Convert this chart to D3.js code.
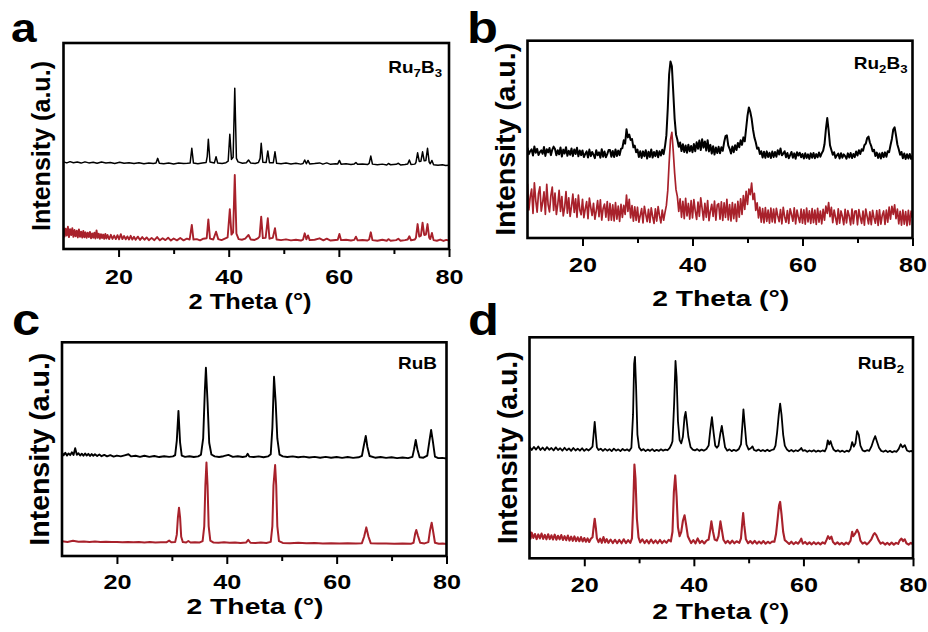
<!DOCTYPE html>
<html>
<head>
<meta charset="utf-8">
<script src="https://cdn.jsdelivr.net/npm/d3@7"></script>
<style>
  body { margin: 0; background: #fff; }
  svg { display: block; }
  text { font-family: Arial, "Liberation Sans", Helvetica, sans-serif; font-weight: bold; fill: #000; }
</style>
</head>
<body>
<svg id="chart" width="928" height="632"></svg>
<script>
// ---- axis definitions -------------------------------------------------
const thetaDomain = [10, 80];
const majorTicks = [20, 40, 60, 80];
const minorTicks = [30, 50, 70];
const xTitle = "2 Theta (°)";
const yTitle = "Intensity (a.u.)";

// ---- Ru7B3: [2θ, intensity] (black = measured, red = reference) -------
const ru7b3Black = [
  [10,42.3],[10.6,41.8],[11.2,42.4],[11.8,41.9],[12.5,42.2],[13.2,41.7],[13.9,42.3],[14.6,41.8],[15.4,42.1],[16.1,41.6],
  [16.9,42.2],[17.7,41.8],[18.5,42.0],[19.3,41.5],[20.2,42.1],[21.0,41.6],[21.9,41.9],[22.8,41.5],[23.7,41.9],[24.6,41.4],
  [25.5,41.8],[26.3,41.5],[26.8,41.7],[27.1,44.0],[27.4,41.6],[28.2,41.4],[29.1,41.8],[30.0,41.3],[30.9,41.7],[31.8,41.5],
  [32.5,41.6],[33.0,41.8],[33.3,48.9],[33.6,41.7],[34.4,41.4],[35.2,41.7],[35.9,42.0],[36.1,45.0],[36.3,53.3],[36.6,42.2],
  [37.4,41.8],[37.7,44.8],[38.0,41.7],[38.8,41.5],[39.5,41.9],[39.9,42.6],[40.2,55.7],[40.5,43.5],[40.8,44.5],[41.1,78.0],
  [41.4,44.0],[41.7,42.3],[42.5,41.6],[43.2,41.9],[43.6,43.2],[44.0,41.7],[44.8,41.5],[45.4,42.0],[45.7,44.0],[45.9,51.3],
  [46.2,42.1],[46.8,42.0],[47.1,47.6],[47.4,41.9],[48.1,41.9],[48.4,47.2],[48.7,41.6],[49.5,41.4],[50.4,41.7],[51.3,41.3],
  [52.2,41.6],[53.1,41.2],[53.5,41.5],[53.8,43.2],[54.1,41.4],[54.4,43.0],[54.7,41.3],[55.6,41.5],[56.5,41.8],[57.1,41.2],
  [57.8,41.8],[58.5,41.1],[59.4,41.4],[59.8,41.3],[60.1,43.0],[60.4,41.2],[61.3,41.4],[62.2,41.0],[62.8,41.3],[63.1,42.0],
  [63.4,41.1],[64.3,41.3],[65.2,41.0],[65.5,41.6],[65.8,45.1],[66.1,41.2],[67.0,40.9],[67.9,41.2],[68.7,40.8],[69.0,41.5],
  [69.4,40.9],[70.4,41.1],[70.8,41.6],[71.2,40.8],[72.0,41.0],[72.5,41.3],[72.8,43.2],[73.1,41.0],[73.8,41.2],[74.0,42.0],
  [74.3,46.7],[74.6,42.5],[74.9,42.6],[75.2,47.2],[75.5,42.8],[75.8,43.0],[76.1,48.9],[76.4,42.2],[76.6,41.4],[76.9,43.0],
  [77.2,40.9],[78.0,40.6],[78.8,40.9],[79.4,40.5],[80,40.7]
];
const ru7b3Red = [
  [10,10.5],[10.2,6.0],[10.4,9.8],[10.6,6.5],[10.8,10.8],[11.0,5.8],[11.2,9.6],[11.4,6.8],[11.6,10.1],[11.8,5.9],
  [12.0,9.2],[12.2,6.2],[12.4,8.9],[12.6,5.6],[12.8,9.5],[13.0,5.9],[13.2,8.4],[13.4,5.5],[13.6,8.8],[13.8,5.7],
  [14.0,8.1],[14.2,5.4],[14.4,7.9],[14.6,5.8],[14.8,8.3],[15.0,5.2],[15.2,7.6],[15.4,5.5],[15.6,7.9],[15.8,5.1],
  [16.0,9.0],[16.2,5.4],[16.4,7.4],[16.6,5.0],[16.8,7.2],[17.0,5.3],[17.2,7.0],[17.4,4.9],[17.6,7.3],[17.8,5.1],
  [18.0,6.8],[18.3,4.8],[18.6,6.9],[18.9,4.9],[19.2,6.5],[19.5,4.8],[19.8,6.7],[20.1,4.7],[20.4,7.2],[20.7,4.8],
  [21.0,6.3],[21.3,4.7],[21.6,6.1],[21.9,4.6],[22.2,6.4],[22.5,4.6],[22.8,5.9],[23.1,4.5],[23.5,6.0],[23.9,4.4],
  [24.3,5.8],[24.7,4.5],[25.1,5.6],[25.5,4.3],[26.0,5.4],[26.5,4.3],[27.0,5.8],[27.5,4.2],[28.0,5.2],[28.5,4.3],
  [29.0,5.5],[29.5,4.1],[30.0,5.1],[30.6,4.2],[31.2,5.3],[31.8,4.2],[32.4,5.0],[32.9,4.6],[33.3,11.7],[33.6,4.6],
  [34.2,4.8],[34.8,4.2],[35.4,5.0],[36.0,5.2],[36.3,14.4],[36.6,5.0],[37.2,4.6],[37.7,8.4],[38.1,4.8],[38.7,4.3],
  [39.3,5.0],[39.8,5.6],[40.2,19.3],[40.5,7.0],[40.8,8.0],[41.1,35.9],[41.4,7.5],[41.8,4.8],[42.4,4.5],[43.0,5.0],
  [43.6,6.8],[44.0,4.6],[44.7,4.4],[45.3,5.2],[45.6,6.0],[45.9,15.7],[46.2,5.3],[46.7,5.4],[47.1,14.9],[47.4,5.0],
  [48.0,5.4],[48.4,10.1],[48.7,4.6],[49.5,4.3],[50.4,4.7],[51.3,4.2],[52.2,4.5],[53.1,4.1],[53.5,4.6],[53.8,7.6],
  [54.1,4.7],[54.4,6.6],[54.7,4.3],[55.6,4.5],[56.5,5.2],[57.2,4.2],[57.8,5.0],[58.5,4.1],[59.4,4.4],[59.8,4.5],
  [60.1,7.3],[60.4,4.3],[61.3,4.5],[62.2,4.1],[62.8,4.4],[63.1,6.0],[63.4,4.2],[64.3,4.4],[65.2,4.1],[65.5,4.6],
  [65.8,8.1],[66.1,4.3],[67.0,4.0],[67.9,4.5],[68.7,4.0],[69.0,4.8],[69.4,4.0],[70.4,4.3],[70.8,5.0],[71.2,4.0],
  [72.0,4.3],[72.5,4.6],[72.8,6.2],[73.1,4.2],[73.8,4.6],[74.0,5.5],[74.3,12.1],[74.6,6.0],[74.9,6.5],[75.2,12.8],
  [75.5,6.8],[75.8,7.0],[76.1,12.1],[76.4,5.5],[76.6,4.8],[76.9,7.8],[77.2,4.3],[77.8,4.0],[78.4,4.6],[79.0,3.9],
  [79.5,4.4],[80,4.2]
];

// ---- Ru2B3: intensities on a 0.25° step from 10° to 80° ---------------
const ru2b3Step = 0.25;
const ru2b3Black = [
  45.8,42.5,44.0,44.9,41.8,46.4,43.2,45.2,42.1,43.5,44.4,42.7,46.1,41.6,45.0,43.4,45.6,42.0,44.7,46.3, // 10–15
  45.1,41.9,44.5,42.4,45.9,41.3,44.8,42.8,46.0,41.7,44.2,42.2,45.4,41.5,44.9,42.6,45.7,41.4,44.3,42.0, // 15–20
  44.4,41.0,42.6,43.9,40.8,44.8,41.5,43.6,42.2,40.5,44.5,41.9,43.4,40.7,45.0,41.2,43.8,40.9,42.5,44.6, // 20–25
  44.6,41.2,44.1,41.0,44.9,41.6,44.3,42.0,45.2,45.6,49.5,47.8,55.1,51.0,52.4,49.7,50.2,46.0,46.8,43.5, // 25–30
  44.8,41.0,44.0,40.6,43.9,41.4,44.5,40.3,43.7,41.1,44.9,40.8,43.6,41.5,44.2,40.9,44.0,41.8,44.7,42.5, // 30–35
  46.5,52.0,65.5,83.0,89.5,87.0,74.0,60.5,52.5,49.8,46.2,48.4,44.1,47.5,43.6,46.9,43.2,47.3,44.0,46.6, // 35–40
  43.5,47.6,44.0,48.5,45.2,49.4,44.6,50.1,45.8,48.9,44.3,49.6,43.9,47.2,42.8,46.5,42.3,45.9,43.1,46.2, // 40–45
  42.9,46.0,44.2,48.5,51.6,52.0,47.0,45.2,42.8,46.4,43.5,47.0,44.6,48.2,46.0,49.5,47.2,51.0,49.0,55.5, // 45–50
  62.0,66.2,64.0,60.5,55.0,51.0,48.5,45.2,45.8,42.6,44.0,40.8,43.7,40.6,43.9,41.1,43.2,40.5,43.8,41.0, // 50–55
  43.6,41.2,44.5,42.3,45.4,41.9,42.8,44.0,40.9,43.1,40.4,42.0,43.6,40.7,42.9,40.2,43.5,41.8,43.2,40.9, // 55–60
  42.6,40.3,43.0,40.6,42.4,40.1,42.9,40.7,43.1,40.4,42.5,40.9,43.3,41.2,43.0,44.2,47.5,55.0,60.8,54.5, // 60–65
  47.0,44.6,42.2,43.5,40.6,41.9,42.8,40.3,43.0,40.7,42.4,41.5,40.2,42.9,40.8,43.1,40.5,42.6,41.0,43.8, // 65–70
  41.8,44.5,42.6,45.0,44.2,47.0,47.8,50.6,51.4,48.4,46.6,44.0,44.7,41.6,43.3,40.6,42.8,40.3,43.2,41.0, // 70–75
  43.4,41.2,44.0,43.5,47.0,50.2,55.0,56.1,52.0,47.4,45.0,42.2,43.6,40.4,42.8,40.0,42.5,40.3,42.6,40.1, // 75–80
  41.8
];
const ru2b3Red = [
  27.5,14.2,21.0,24.8,12.5,28.0,19.0,13.1,22.6,25.9,13.6,18.0,23.4,12.0,27.2,16.8,13.2,21.5,25.8,14.0, // 10–15
  22.8,11.9,17.0,24.1,13.5,21.0,11.2,15.4,23.5,12.6,20.4,10.9,16.0,22.2,13.0,19.8,10.5,21.7,14.3,11.8, // 15–20
  19.6,10.3,14.8,18.4,9.8,20.2,15.5,11.4,17.6,9.5,13.8,18.9,10.8,19.3,9.1,15.0,17.2,10.6,18.5,8.9,    // 20–25
  17.5,9.0,16.8,8.7,17.9,9.6,16.2,8.4,17.0,10.4,16.5,12.0,21.8,13.5,19.6,10.2,16.4,8.5,15.8,8.9,      // 25–30
  15.6,8.0,11.5,14.9,7.6,16.1,12.0,8.3,14.5,7.9,15.3,10.9,7.4,14.8,8.6,15.9,11.3,7.7,14.2,9.0,        // 30–35
  13.0,16.5,24.0,38.0,50.0,53.5,44.0,33.0,24.5,21.0,13.5,19.8,10.5,18.6,9.8,20.1,11.2,17.5,9.6,18.9, // 35–40
  10.2,19.5,13.8,9.4,18.2,11.0,20.4,15.0,9.1,17.6,10.5,19.0,8.8,13.6,17.1,10.9,18.7,9.0,16.8,17.4,    // 40–45
  9.5,18.3,8.9,17.8,10.4,19.6,9.2,16.9,8.6,18.0,9.8,17.2,8.4,18.6,10.6,19.9,12.0,21.5,14.5,23.6,      // 45–50
  17.0,24.8,22.0,27.8,19.5,22.6,14.0,17.8,10.2,15.6,8.0,14.9,7.7,15.4,8.4,14.1,7.5,15.2,8.1,14.6,     // 50–55
  7.6,15.0,11.2,8.3,14.4,7.2,15.5,10.8,8.0,13.9,7.4,14.8,12.0,8.5,15.3,7.1,14.2,10.5,7.9,14.7,        // 55–60
  7.5,14.3,7.0,15.2,8.1,13.8,7.4,14.9,7.8,14.1,6.9,15.0,8.0,13.6,7.2,14.5,9.0,16.2,12.5,17.9,         // 60–65
  10.8,15.5,7.8,14.2,10.4,6.9,14.8,7.5,13.7,10.9,6.8,14.5,7.7,13.9,11.0,6.6,14.6,7.3,13.5,13.8,       // 65–70
  6.7,14.4,10.5,7.4,13.6,6.5,14.7,11.0,7.2,13.3,6.8,14.0,10.2,7.5,13.9,6.4,14.3,7.0,11.5,13.7,        // 70–75
  6.9,14.2,8.0,15.6,9.5,16.1,12.0,16.8,9.8,14.6,7.2,13.5,6.5,14.1,7.0,13.4,6.3,14.0,6.8,13.6,         // 75–80
  10.2
];

// ---- RuB: [2θ, intensity] ---------------------------------------------
const rubBlack = [
  [10,48.4],[10.3,47.1],[10.6,48.3],[10.9,47.0],[11.2,48.0],[11.5,47.2],[11.8,48.5],[12.1,47.3],[12.4,50.4],[12.7,47.4],
  [13.0,48.1],[13.3,47.0],[13.6,47.9],[13.9,46.9],[14.2,48.0],[14.5,47.0],[14.8,47.8],[15.1,46.8],[15.4,47.7],[15.7,46.9],
  [16.0,47.6],[16.4,46.8],[16.8,47.5],[17.2,46.7],[17.7,47.3],[18.2,46.6],[18.8,47.2],[19.4,46.5],[20.0,47.0],[20.7,46.6],
  [21.4,47.1],[22.1,47.6],[22.6,46.6],[23.4,46.9],[24.2,46.4],[25.0,46.9],[25.9,46.4],[26.8,46.8],[27.7,46.3],[28.6,46.7],
  [29.5,46.4],[30.2,46.6],[30.6,47.2],[30.9,54.0],[31.2,67.9],[31.5,53.0],[31.8,47.0],[32.4,46.4],[33.2,46.7],[34.0,46.3],
  [34.8,46.6],[35.3,47.4],[35.7,55.0],[36.0,77.0],[36.2,88.1],[36.5,72.0],[36.8,53.0],[37.2,47.5],[37.8,46.6],[38.6,46.3],
  [39.4,46.7],[40.3,47.3],[41.1,46.4],[42.0,46.7],[42.9,46.3],[43.5,46.6],[43.8,47.8],[44.1,46.5],[44.9,46.3],[45.8,46.6],
  [46.7,46.2],[47.5,46.6],[48.0,47.6],[48.3,60.0],[48.6,83.9],[48.9,72.0],[49.2,55.0],[49.6,47.4],[50.2,46.6],[51.0,46.3],
  [52.0,46.6],[53.0,46.2],[54.0,46.5],[55.0,46.1],[56.0,46.4],[57.0,46.0],[58.0,46.4],[59.0,46.0],[60.0,46.3],[61.0,45.9],
  [62.0,46.3],[63.0,45.9],[64.0,46.2],[64.6,46.8],[64.9,51.0],[65.3,56.2],[65.6,51.0],[66.0,46.8],[67.0,46.0],[68.0,46.3],
  [69.0,45.9],[70.0,46.2],[71.0,45.8],[72.0,46.1],[73.0,45.8],[73.8,46.4],[74.1,50.0],[74.4,54.3],[74.7,50.0],[75.1,46.2],
  [75.8,46.0],[76.5,47.0],[76.9,54.0],[77.2,59.0],[77.5,54.0],[77.9,46.5],[78.5,45.8],[79.2,45.9],[80,45.6]
];
const rubRed = [
  [10,6.9],[11,6.6],[12,7.1],[13,6.7],[14,6.8],[15,6.6],[16,6.8],[17,6.5],[18,6.7],[19,6.5],
  [20,6.6],[21,6.4],[22,6.6],[23,6.4],[24,6.5],[25,6.3],[26,6.5],[27,6.3],[28,6.4],[29,6.4],
  [29.5,7.2],[29.9,6.4],[30.6,6.5],[30.9,10.0],[31.1,18.0],[31.3,22.6],[31.5,18.0],[31.7,9.0],[32.0,6.5],[32.6,6.3],
  [33.0,7.0],[33.4,6.3],[34.2,6.4],[35.0,6.3],[35.6,7.0],[35.9,14.0],[36.1,33.0],[36.3,43.7],[36.5,33.0],[36.7,14.0],
  [37.0,7.2],[37.6,6.3],[38.5,6.2],[39.5,6.4],[40.5,6.2],[41.5,6.3],[42.5,6.1],[43.5,6.3],[43.9,7.6],[44.3,6.2],
  [45.2,6.1],[46.2,6.3],[47.2,6.1],[48.0,6.6],[48.3,14.0],[48.5,33.0],[48.8,42.6],[49.0,33.0],[49.2,14.0],[49.5,7.0],
  [50.2,6.1],[51.5,6.0],[53.0,6.2],[54.5,6.0],[56.0,6.1],[57.5,5.9],[59.0,6.0],[60.5,5.8],[62.0,6.0],[63.5,5.8],
  [64.6,6.0],[65.0,9.0],[65.4,13.4],[65.8,9.0],[66.2,6.0],[67.5,5.8],[69.0,5.9],[70.5,5.7],[72.0,5.8],[73.5,5.7],
  [74.0,6.2],[74.3,10.5],[74.5,12.2],[74.8,9.5],[75.2,6.2],[76.0,5.9],[76.7,6.5],[77.0,12.0],[77.3,15.6],[77.6,11.0],
  [77.9,6.2],[78.6,5.7],[79.3,5.8],[80,5.6]
];

// ---- RuB2: [2θ, intensity] --------------------------------------------
const rub2Black = [
  [10,50.5],[10.4,49.0],[10.8,50.4],[11.2,49.2],[11.6,50.6],[12.0,49.0],[12.4,50.1],[12.8,48.9],[13.2,50.3],[13.6,49.1],
  [14.0,49.9],[14.4,48.8],[14.8,50.2],[15.2,49.0],[15.6,49.8],[16.0,48.7],[16.4,50.0],[16.8,48.9],[17.2,49.7],[17.6,48.6],
  [18.0,49.9],[18.4,48.8],[18.8,49.6],[19.2,48.7],[19.6,49.8],[20.0,48.6],[20.4,49.5],[20.8,48.8],[21.2,49.7],[21.5,50.5],
  [21.7,56.0],[21.9,61.7],[22.1,56.0],[22.3,50.2],[22.6,49.0],[23.0,49.6],[23.4,48.6],[23.8,49.5],[24.2,48.7],[24.6,49.4],
  [25.0,48.5],[25.4,49.6],[25.8,48.7],[26.2,49.3],[26.6,48.5],[27.0,49.5],[27.4,48.8],[27.8,49.3],[28.2,48.6],[28.6,50.0],
  [28.9,65.0],[29.1,88.0],[29.25,91.1],[29.45,78.0],[29.7,56.0],[30.0,50.2],[30.4,48.8],[30.8,49.4],[31.2,48.5],[31.6,49.2],
  [32.0,48.6],[32.4,49.4],[32.8,48.5],[33.2,49.1],[33.6,48.6],[34.0,49.3],[34.4,48.7],[34.8,49.2],[35.2,48.9],[35.6,50.0],
  [35.9,51.5],[36.1,53.0],[36.4,70.0],[36.65,89.3],[36.85,82.0],[37.1,62.0],[37.4,53.5],[37.7,52.0],[38.0,55.0],[38.3,64.0],
  [38.5,66.2],[38.7,62.0],[39.0,55.0],[39.4,50.3],[39.8,49.2],[40.2,48.8],[40.6,49.4],[41.0,48.6],[41.4,49.2],[41.8,48.7],
  [42.3,49.5],[42.7,51.0],[43.0,58.0],[43.3,63.9],[43.6,57.0],[43.9,51.0],[44.2,50.0],[44.5,51.0],[44.8,56.0],[45.1,59.9],
  [45.4,55.0],[45.7,50.2],[46.1,48.7],[46.5,49.3],[46.9,48.5],[47.3,49.1],[47.7,48.6],[48.2,49.4],[48.6,51.5],[48.85,60.0],
  [49.05,67.4],[49.3,60.0],[49.6,51.5],[50.0,49.2],[50.4,49.8],[50.7,50.6],[51.0,49.0],[51.4,48.6],[51.8,49.2],[52.2,48.5],
  [52.6,49.0],[53.0,48.4],[53.4,49.1],[53.8,48.5],[54.2,49.0],[54.6,49.3],[54.9,51.0],[55.2,57.0],[55.5,65.0],[55.75,70.0],
  [56.0,65.0],[56.3,56.0],[56.6,51.0],[57.0,49.2],[57.4,48.4],[57.8,49.0],[58.2,48.3],[58.6,48.9],[59.0,48.5],[59.3,49.1],
  [59.6,49.9],[59.9,48.6],[60.3,48.9],[60.7,48.2],[61.1,48.8],[61.5,48.3],[61.9,48.9],[62.3,48.2],[62.7,48.7],[63.1,48.3],
  [63.5,48.8],[63.9,48.4],[64.2,50.0],[64.45,53.4],[64.7,51.5],[64.95,53.0],[65.2,51.0],[65.5,49.2],[65.9,48.4],[66.3,48.9],
  [66.7,48.2],[67.1,48.7],[67.5,48.1],[67.9,48.7],[68.3,48.3],[68.6,49.5],[68.9,52.6],[69.2,50.5],[69.5,52.0],[69.8,57.5],
  [70.1,56.0],[70.4,51.0],[70.8,48.8],[71.2,48.4],[71.6,48.9],[72.0,48.6],[72.4,50.5],[72.8,53.5],[73.1,55.3],[73.4,53.0],
  [73.8,50.0],[74.2,48.6],[74.6,48.2],[75.0,48.8],[75.4,48.1],[75.8,48.6],[76.2,48.0],[76.6,48.5],[77.0,48.2],[77.4,49.5],
  [77.75,51.6],[78.1,50.2],[78.5,51.2],[78.9,48.8],[79.3,48.3],[79.7,48.6],[80,48.0]
];
const rub2Red = [
  [10,12.4],[10.2,8.9],[10.4,11.6],[10.7,9.2],[11.0,11.0],[11.3,8.7],[11.6,10.8],[11.9,9.0],[12.2,11.2],[12.5,8.8],
  [12.8,10.6],[13.1,8.6],[13.4,10.9],[13.7,8.7],[14.0,10.4],[14.3,8.5],[14.6,10.7],[14.9,8.4],[15.2,10.2],[15.5,8.6],
  [15.8,10.5],[16.1,8.3],[16.4,10.0],[16.7,8.2],[17.0,10.3],[17.3,8.0],[17.6,9.8],[17.9,7.9],[18.2,9.9],[18.5,7.8],
  [18.8,9.5],[19.1,7.7],[19.4,9.6],[19.7,7.6],[20.0,9.2],[20.3,7.5],[20.6,9.0],[20.9,7.4],[21.2,8.8],[21.5,9.5],
  [21.7,14.0],[21.9,17.9],[22.1,14.0],[22.3,9.0],[22.6,7.3],[22.9,8.9],[23.2,7.0],[23.5,9.6],[23.8,7.2],[24.1,8.7],
  [24.4,7.0],[24.8,8.5],[25.2,6.9],[25.6,8.4],[26.0,6.9],[26.4,8.3],[26.8,6.8],[27.2,8.6],[27.6,6.9],[28.0,8.2],
  [28.4,7.0],[28.7,9.0],[28.95,25.0],[29.15,42.4],[29.35,36.0],[29.6,18.0],[29.9,9.5],[30.2,7.2],[30.6,8.6],[31.0,6.9],
  [31.4,8.2],[31.8,6.8],[32.2,8.5],[32.6,6.9],[33.0,8.1],[33.4,6.8],[33.8,8.3],[34.2,6.9],[34.6,8.0],[35.0,7.0],
  [35.4,8.4],[35.8,7.6],[36.1,12.0],[36.35,30.0],[36.6,37.5],[36.85,28.0],[37.1,14.0],[37.4,10.0],[37.7,12.0],[38.0,17.0],
  [38.3,19.5],[38.6,15.0],[38.9,10.0],[39.2,8.4],[39.5,6.9],[39.9,8.2],[40.3,6.8],[40.7,9.0],[41.1,6.9],[41.5,7.9],
  [41.9,6.7],[42.3,8.0],[42.7,8.5],[43.0,13.0],[43.2,16.7],[43.5,12.0],[43.8,8.5],[44.2,8.0],[44.5,10.0],[44.85,16.7],
  [45.1,13.0],[45.4,8.4],[45.8,6.9],[46.2,7.9],[46.6,6.7],[47.0,8.0],[47.4,6.8],[47.8,7.7],[48.3,7.0],[48.6,9.0],
  [48.8,15.0],[49.0,20.5],[49.2,15.0],[49.5,8.6],[49.9,6.8],[50.3,7.8],[50.7,6.7],[51.1,7.9],[51.5,6.6],[51.9,7.6],
  [52.3,6.7],[52.7,7.8],[53.1,6.6],[53.5,7.5],[53.9,6.8],[54.3,7.6],[54.7,7.5],[55.0,11.0],[55.3,18.0],[55.55,24.0],
  [55.75,25.5],[56.0,20.0],[56.3,12.0],[56.6,8.2],[57.0,7.4],[57.4,6.5],[57.8,7.5],[58.2,6.4],[58.6,7.3],[59.0,6.6],
  [59.3,7.5],[59.6,8.9],[59.9,6.6],[60.3,7.4],[60.7,6.4],[61.1,7.2],[61.5,6.3],[61.9,7.3],[62.3,6.4],[62.7,7.1],
  [63.1,6.3],[63.5,7.2],[63.9,6.6],[64.2,8.2],[64.5,10.0],[64.8,8.8],[65.1,9.8],[65.4,7.4],[65.8,6.4],[66.2,7.2],
  [66.6,6.3],[67.0,7.0],[67.4,6.2],[67.8,7.1],[68.2,6.4],[68.6,8.0],[68.9,12.0],[69.1,10.0],[69.4,11.0],[69.8,12.9],
  [70.1,11.5],[70.4,8.0],[70.8,6.6],[71.2,7.2],[71.6,6.3],[72.0,7.3],[72.4,8.6],[72.8,10.8],[73.0,11.4],[73.3,10.5],
  [73.7,8.2],[74.1,6.6],[74.5,7.2],[74.9,6.2],[75.3,7.0],[75.7,6.1],[76.1,7.1],[76.5,6.2],[76.9,7.0],[77.3,6.5],
  [77.6,8.2],[77.9,8.9],[78.2,7.8],[78.5,8.6],[78.8,6.8],[79.2,6.2],[79.6,7.0],[80,6.3]
];

// ---- sample names as [text, isSubscript] runs -------------------------
const nameRu7B3 = [["Ru", false], ["7", true], ["B", false], ["3", true]];
const nameRu2B3 = [["Ru", false], ["2", true], ["B", false], ["3", true]];
const nameRuB   = [["RuB", false]];
const nameRuB2  = [["RuB", false], ["2", true]];

// turn a uniformly stepped intensity list into [2θ, intensity] pairs
const onGrid = (vals, start, step) => vals.map((v, i) => [start + i * step, v]);

const BLACK = "#000000";
const RED = "#a8212b";

const panels = [
  { letter: "a", box: { left: 63.5, right: 449, top: 43, bottom: 249 },
    black: ru7b3Black, red: ru7b3Red, name: nameRu7B3,
    lw: [1.5, 1.9], tickGap: 35, titleX: 250, titleBase: 308.5, titleSize: 21.5, titleLen: 123,
    yTitleX: 41, ySize: 25, yLen: 170, letterX: 11, letterBase: 42, letterSize: 40,
    nameRight: 442, nameBase: 72.5 },
  { letter: "b", box: { left: 527.5, right: 912.5, top: 40.7, bottom: 238 },
    black: onGrid(ru2b3Black, 10, ru2b3Step), red: onGrid(ru2b3Red, 10, ru2b3Step), name: nameRu2B3,
    lw: [2.0, 1.7], tickGap: 33.7, titleX: 720.7, titleBase: 305.5, titleSize: 22.5, titleLen: 137,
    yTitleX: 505, ySize: 28.5, yLen: 193, letterX: 467, letterBase: 43, letterSize: 44,
    nameRight: 907.5, nameBase: 68.5 },
  { letter: "c", box: { left: 62, right: 446.5, top: 342.3, bottom: 556 },
    black: rubBlack, red: rubRed, name: nameRuB,
    lw: [1.9, 2.0], tickGap: 33.3, titleX: 255, titleBase: 614, titleSize: 22.5, titleLen: 137,
    yTitleX: 39, ySize: 28.5, yLen: 193, letterX: 12, letterBase: 335, letterSize: 44,
    nameRight: 437, nameBase: 368.5 },
  { letter: "d", box: { left: 529.5, right: 913, top: 337.3, bottom: 558.3 },
    black: rub2Black, red: rub2Red, name: nameRuB2,
    lw: [1.8, 2.1], tickGap: 33.4, titleX: 720.7, titleBase: 618.5, titleSize: 22.5, titleLen: 137,
    yTitleX: 506.5, ySize: 28.5, yLen: 193, letterX: 468, letterBase: 335, letterSize: 44,
    nameRight: 904, nameBase: 368.5 }
];

const svg = d3.select("#chart");
svg.append("rect").attr("width", 928).attr("height", 632).attr("fill", "#ffffff");
const defs = svg.append("defs");

panels.forEach(p => {
  const b = p.box;
  const x = d3.scaleLinear().domain(thetaDomain).range([b.left, b.right]);
  const y = d3.scaleLinear().domain([0, 100]).range([b.bottom, b.top]);
  const g = svg.append("g").attr("class", "panel-" + p.letter);

  const clipId = "clip-" + p.letter;
  defs.append("clipPath").attr("id", clipId)
    .append("rect").attr("x", b.left).attr("y", b.top)
    .attr("width", b.right - b.left).attr("height", b.bottom - b.top);

  const line = d3.line().x(d => x(d[0])).y(d => y(d[1]));
  const traces = g.append("g").attr("clip-path", `url(#${clipId})`);
  traces.append("path").datum(p.red).attr("d", line)
    .attr("fill", "none").attr("stroke", RED).attr("stroke-width", p.lw[1]).attr("stroke-linejoin", "round");
  traces.append("path").datum(p.black).attr("d", line)
    .attr("fill", "none").attr("stroke", BLACK).attr("stroke-width", p.lw[0]).attr("stroke-linejoin", "round");

  // minor ticks (unlabelled)
  const minorAxis = d3.axisBottom(x).tickValues(minorTicks).tickSize(5).tickSizeOuter(0).tickFormat("");
  const gm = g.append("g").attr("transform", `translate(0,${b.bottom})`).call(minorAxis);
  gm.select(".domain").remove();
  gm.selectAll(".tick line").attr("stroke", "#000").attr("stroke-width", 2);

  // major ticks with labels
  const tickSize = 8, labelSize = 21;
  const pad = p.tickGap - tickSize - 0.71 * labelSize;
  const majorAxis = d3.axisBottom(x).tickValues(majorTicks).tickSize(tickSize).tickSizeOuter(0).tickPadding(pad);
  const ga = g.append("g").attr("transform", `translate(0,${b.bottom})`).call(majorAxis);
  ga.attr("font-size", labelSize).attr("font-family", null);
  ga.select(".domain").remove();
  ga.selectAll(".tick line").attr("stroke", "#000").attr("stroke-width", 2);
  ga.selectAll(".tick text").attr("fill", "#000").attr("transform", "scale(1.2,1)");

  // frame
  g.append("rect").attr("x", b.left).attr("y", b.top)
    .attr("width", b.right - b.left).attr("height", b.bottom - b.top)
    .attr("fill", "none").attr("stroke", "#000").attr("stroke-width", 2.6);

  // x title
  g.append("text").attr("x", p.titleX).attr("y", p.titleBase)
    .attr("text-anchor", "middle").attr("font-size", p.titleSize)
    .attr("textLength", p.titleLen).attr("lengthAdjust", "spacingAndGlyphs")
    .text(xTitle);

  // y title
  const cy = (b.top + b.bottom) / 2;
  g.append("text")
    .attr("transform", `translate(${p.yTitleX},${cy}) rotate(-90)`)
    .attr("text-anchor", "middle").attr("dy", "0.36em").attr("font-size", p.ySize)
    .attr("textLength", p.yLen).attr("lengthAdjust", "spacingAndGlyphs")
    .text(yTitle);

  // panel letter
  g.append("text")
    .attr("transform", `translate(${p.letterX},${p.letterBase}) scale(1.15,1)`)
    .attr("font-size", p.letterSize).text(p.letter);

  // sample name
  const nt = g.append("text")
    .attr("transform", `translate(${p.nameRight},${p.nameBase}) scale(1.15,1)`)
    .attr("text-anchor", "end").attr("font-size", 16.5);
  let shifted = false;
  p.name.forEach(([s, sub]) => {
    const ts = nt.append("tspan").text(s);
    if (sub) { ts.attr("font-size", 11.5).attr("dy", shifted ? 0 : 4.5); shifted = true; }
    else { ts.attr("dy", shifted ? -4.5 : 0); shifted = false; }
  });
});
</script>
</body>
</html>
